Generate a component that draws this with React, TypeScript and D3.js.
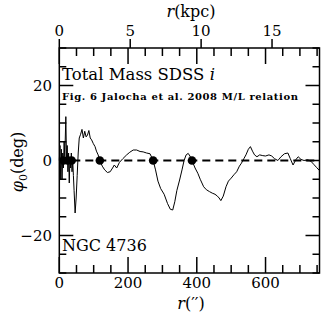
import React from "react";
import * as d3 from "d3";

const W = 321;
const H = 322;

// radius in arcsec and phi0 in degrees
const radiusArcsec = [
  0, 2, 4, 6, 8, 10, 12, 14, 16, 19, 21, 23, 25, 27, 29, 31, 33, 35, 37, 39, 41, 43, 46, 49, 52, 55, 58,
  62, 66, 70, 74, 78, 82, 86, 90, 94, 99, 104, 108, 113, 118,
  125, 132, 140, 148, 155, 160, 167, 175, 185, 196, 205, 215, 225, 235, 244, 254, 264, 273,
  280, 287, 295, 305, 315, 323, 330, 336, 342, 350, 357, 363, 369, 375, 380, 386,
  395, 403, 410, 420, 428, 437, 445, 453, 460, 465, 470, 477, 485, 492, 500, 508, 516, 524, 530, 537,
  543, 550, 556, 562, 568, 575, 583, 592, 600, 610, 618, 626, 636, 645, 655, 665, 672, 680, 688, 695,
  703, 712, 722, 732, 740, 748, 757,
];
const phiDeg = [
  0, 4, -5, 3, -5, 2, -2, 5, 1, 11.7, 0, 4, -3, 2, -6, 1, -2, 2, -3, 0, -4, -8, -14, -10, -4, 2, 6,
  7, 8.3, 6, 7.8, 6.3, 6.8, 8, 6, 5.5, 4.5, 3.7, 2.5, 1.5, 0,
  -1.5, -2.5, -3.2, -3, -2, -1.2, -2, -0.5, 0.5, 1.5, 2.2, 2.8, 2.8, 2.4, 2.3, 2.0, 1.8, 0,
  -2.5, -5.5, -7.5, -9, -11.5, -13, -13.2, -11, -8, -5.2, -2.5, 0, 1.5, 1.9, 1.2, 0,
  -2, -3.4, -5, -7, -7.8, -8.3, -8.7, -9, -9.5, -10, -10.7, -9.5, -7, -5.5, -4.7, -3.8, -3, -1.5, -0.7, 0.5,
  1.5, 3, 3.7, 2.5, 1.5, 1, 1.5, 1.3, 1.2, 1.5, 1.2, 0.5, 0, 1, 1.8, 2, 0.5, -1.2, 0.2, 1,
  0.3, 0, 0.2, -0.2, -1, -1.8, -2.7,
];

// positions of the filled markers (zero crossings)
const dotArcsec = [12, 24, 36, 118, 273, 386];
const dotPhi = [0, 0, 0, 0, 0, 0];

const bottomMajor = [0, 200, 400, 600];
const bottomMinor = d3.range(0, 757, 50);
const topKpcMajor = [0, 5, 10, 15];
const yMajor = [-20, 0, 20];
const yMinor = d3.range(-30, 31, 5);

const ARCSEC_PER_KPC = 41.26;
const R_MAX = 757;

export default function App() {
  const x = d3.scaleLinear().domain([0, R_MAX]).range([59.3, 319.5]);
  const xk = d3.scaleLinear().domain([0, R_MAX / ARCSEC_PER_KPC]).range([59.3, 319.5]);
  const y = d3.scaleLinear().domain([-30, 30]).range([273, 48]);

  const line = d3
    .line<number>()
    .x((_, i) => x(radiusArcsec[i]))
    .y((d) => y(d));

  const [x0, x1] = x.range();
  const [yb, yt] = y.range();
  const font = "'DejaVu Serif', serif";
  const sw = 1.5;

  return (
    <svg
      width={W}
      height={H}
      style={{ position: "fixed", left: 0, top: 0, background: "#fff" }}
      fontFamily={font}
    >
      <rect x={0} y={0} width={W} height={H} fill="#fff" />
      {/* frame */}
      <rect x={x0} y={yt} width={x1 - x0} height={yb - yt} fill="none" stroke="#000" strokeWidth={sw} />

      {/* bottom ticks */}
      {bottomMinor.map((v) => (
        <line key={"bm" + v} x1={x(v)} x2={x(v)} y1={yb} y2={yb - (bottomMajor.includes(v) ? 16 : 8)} stroke="#000" strokeWidth={sw} />
      ))}
      {/* top mirrored arcsec ticks */}
      {bottomMinor.map((v) => (
        <line key={"tm" + v} x1={x(v)} x2={x(v)} y1={yt} y2={yt + (bottomMajor.includes(v) ? 16 : 8)} stroke="#000" strokeWidth={sw} />
      ))}
      {/* top kpc ticks outward */}
      {topKpcMajor.map((v) => (
        <line key={"tk" + v} x1={xk(v)} x2={xk(v)} y1={yt} y2={yt - 9} stroke="#000" strokeWidth={sw} />
      ))}
      {/* left/right ticks */}
      {yMinor.map((v) => {
        const L = yMajor.includes(v) ? 14 : 7;
        return (
          <g key={"y" + v}>
            <line x1={x0} x2={x0 + L} y1={y(v)} y2={y(v)} stroke="#000" strokeWidth={sw} />
            <line x1={x1} x2={x1 - L} y1={y(v)} y2={y(v)} stroke="#000" strokeWidth={sw} />
          </g>
        );
      })}

      {/* tick labels */}
      {bottomMajor.map((v) => (
        <text key={"bl" + v} x={x(v)} y={288} fontSize={15} textAnchor="middle">
          {v}
        </text>
      ))}
      {topKpcMajor.map((v) => (
        <text key={"tl" + v} x={xk(v)} y={36} fontSize={15} textAnchor="middle">
          {v}
        </text>
      ))}
      {yMajor.map((v) => (
        <text key={"yl" + v} x={52} y={y(v) + 5.5} fontSize={15} textAnchor="end">
          {v < 0 ? "\u2212" + Math.abs(v) : v}
        </text>
      ))}

      {/* axis titles */}
      <text x={191} y={17} fontSize={16} textAnchor="middle">
        <tspan fontStyle="italic">r</tspan>(kpc)
      </text>
      <text x={191} y={309} fontSize={16} textAnchor="middle">
        <tspan fontStyle="italic">r</tspan>(′′)
      </text>
      <text transform="translate(23,162) rotate(-90)" fontSize={16} textAnchor="middle">
        <tspan fontStyle="italic">φ</tspan>
        <tspan fontSize={11} dy={4}>0</tspan>
        <tspan dy={-4}>(deg)</tspan>
      </text>

      {/* zero line */}
      <line x1={x0} x2={x1} y1={y(0)} y2={y(0)} stroke="#000" strokeWidth={2} strokeDasharray="8 5" />

      {/* data curve */}
      <path d={line(phiDeg) || ""} fill="none" stroke="#000" strokeWidth={1} strokeLinejoin="round" />

      {/* markers */}
      {dotArcsec.map((v, i) => (
        <circle key={"d" + i} cx={x(v)} cy={y(dotPhi[i])} r={4.3} fill="#000" />
      ))}

      {/* annotations */}
      <text x={62} y={80} fontSize={16.5}>
        Total Mass SDSS <tspan fontStyle="italic">i</tspan>
      </text>
      <text x={62} y={100} fontSize={10} fontWeight="bold" textLength={236} lengthAdjust="spacing">
        Fig. 6 Jalocha et al. 2008 M/L relation
      </text>
      <text x={62} y={251} fontSize={16}>
        NGC 4736
      </text>
    </svg>
  );
}
